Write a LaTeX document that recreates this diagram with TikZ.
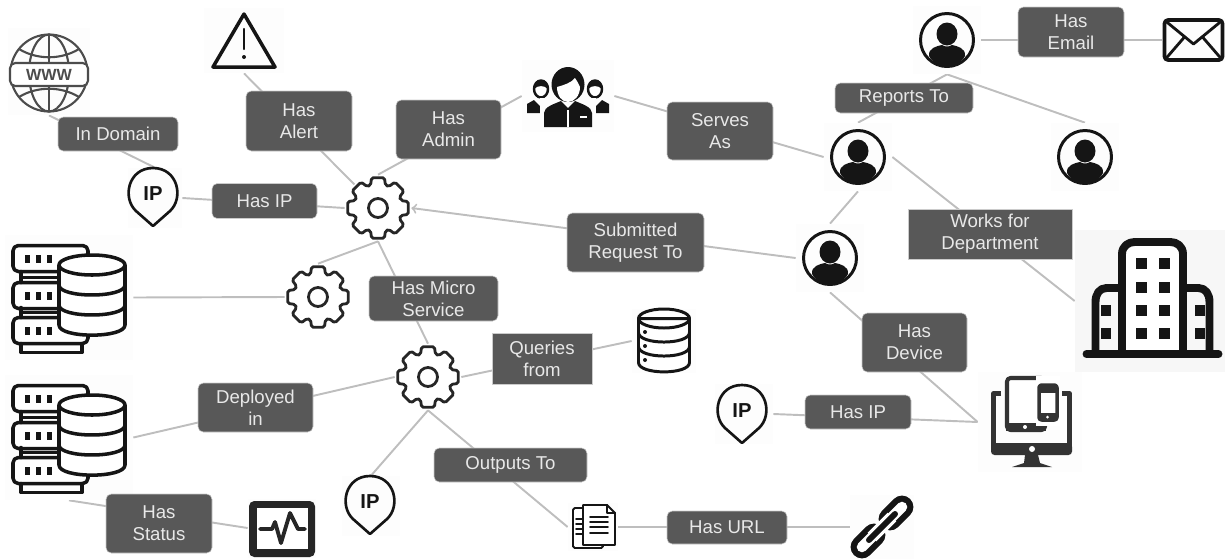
\documentclass[tikz,border=0pt]{standalone}
\usepackage{fontspec}
\setmainfont{Liberation Sans}
\usetikzlibrary{positioning,%
  backgrounds,%
  calc
}
\definecolor{boxgray}{HTML}{585858}
\definecolor{boxtext}{HTML}{E8E8E8}
\definecolor{linegray}{HTML}{BEBEBE}
\definecolor{iconback}{HTML}{FDFDFD}
\definecolor{iconink}{HTML}{151515}
\tikzset{
  linkbox/.style 2 args={rectangle, rounded corners=3pt, fill=boxgray, draw=linegray!80, line width=.3pt,
    text=boxtext, align=center, inner sep=0pt, minimum width=#1*.02cm, minimum height=#2*.02cm,
    font=\fontsize{10.6}{12.6}\selectfont},
  squarebox/.style 2 args={linkbox={#1}{#2}, rounded corners=0pt},
  iconbox/.style 2 args={rectangle, fill=iconback, inner sep=0pt, minimum width=#1*.02cm, minimum height=#2*.02cm},
  gearbox/.style={circle, inner sep=0pt, minimum size=66*.02cm},
  link/.style={draw=linegray, line width=1.1pt},
  ink/.style={draw=iconink, line width=#1, line join=round, line cap=round},
  ink/.default=1.5pt,
  pics/gearicon/.style={code={
    \draw[ink=1.6pt, draw=black!85, rounded corners=1pt] (-18:24) \foreach \a in {0,45,...,315} { -- ({\a-18}:24) -- ({\a-12}:31) -- ({\a+12}:31) -- ({\a+18}:24) } -- cycle;
    \draw[ink=1.6pt, draw=black!85] (0,0) circle[radius=9.5];
  }},
  pics/personicon/.style={code={
    \draw[ink=1.7pt] (0,0) circle[radius=26.5];
    \fill[iconink] (0,-6) ellipse[x radius=10.5, y radius=11.5];
    \fill[iconink] (-18,16) .. controls (-19,8) and (-10,6) .. (-5,5) .. controls (-2,7) and (2,7) .. (5,5) .. controls (10,6) and (19,8) .. (18,16) .. controls (14,23) and (7,26) .. (0,26) .. controls (-7,26) and (-14,23) .. (-18,16) -- cycle;
  }},
  pics/pinicon/.style={code={
    \draw[ink=1.5pt] (0,33) -- (-17,18) .. controls (-31,5) and (-25,-25) .. (0,-25) .. controls (25,-25) and (31,5) .. (17,18) -- cycle;
    \node[font=\bfseries\fontsize{11.5}{12}\selectfont, text=iconink, inner sep=0pt] (-txt) at (0,1) {IP};
  }},
  pics/servericon/.style={code={
    \foreach \y in {-52,-15,20} {
      \draw[ink=2pt, rounded corners=3pt, fill=white] (-56,\y) rectangle (19,\y+26);
      \foreach \x in {-42,-31,-20} { \fill[iconink] (\x-2.5,\y+9) rectangle (\x+2.5,\y+17); }
    }
    \draw[ink=2pt] (-48,-26) -- (-48,-15) (-48,-20) -- (-10,-20) (-48,10) -- (-48,20) (-48,15) -- (-10,15);
    \draw[ink=2pt] (-48,46) -- (-48,55) -- (13,55) -- (13,46);
    \draw[ink=2pt, fill=white] (-10,-32.5) -- (-10,27.5) .. controls (-10,41) and (56,41) .. (56,27.5) -- (56,-32.5) -- cycle;
    \draw[ink=2pt, fill=white] (23,-32.5) ellipse[x radius=33, y radius=10];
    \foreach \y in {-12.5,7.5} { \draw[ink=2pt] (-10,\y) .. controls (-10,\y+13.3) and (56,\y+13.3) .. (56,\y); }
  }},
  pics/dbicon/.style={code={
    \draw[ink=1.7pt, fill=white] (-25.5,-22.5) -- (-25.5,21.5) .. controls (-25.5,34) and (25.5,34) .. (25.5,21.5) -- (25.5,-22.5) -- cycle;
    \draw[ink=1.7pt] (0,-22.5) ellipse[x radius=25.5, y radius=9.5];
    \foreach \y in {-8.5,5.5} { \draw[ink=1.7pt] (-25.5,\y) .. controls (-25.5,\y+12.7) and (25.5,\y+12.7) .. (25.5,\y); }
    \foreach \y in {-9,5,19} { \fill[iconink] (-19,\y) circle[radius=2]; }
  }}
}
\begin{document}
\begin{tikzpicture}[x=.02cm, y=-.02cm]
  \useasboundingbox (0,0) rectangle (1225,559);
  % icons, each one a named box
  \node[iconbox={82}{87}] (www) at (49,71.5) {};
  \node[iconbox={54}{60}] (ipa) at (155,198) {};
  \node[iconbox={80}{65}] (alert) at (244,40.5) {};
  \node[gearbox] (geara) at (378,208) {};
  \node[gearbox] (gearb) at (318,297) {};
  \node[gearbox] (gearc) at (428,377) {};
  \node[iconbox={92}{72}] (admin) at (568,96) {};
  \node[iconbox={68}{68}] (persona) at (947,40) {};
  \node[iconbox={68}{68}] (personb) at (858,157) {};
  \node[iconbox={68}{68}] (personc) at (1085,157) {};
  \node[iconbox={68}{68}] (persond) at (830,258) {};
  \node[iconbox={63}{44}] (mail) at (1193.5,40) {};
  \node[iconbox={150}{142}, fill=black!3] (building) at (1150,301) {};
  \node[iconbox={104}{100}] (device) at (1030,422) {};
  \node[iconbox={58}{60}] (ipb) at (744,414) {};
  \node[iconbox={128}{125}] (servera) at (69,297.5) {};
  \node[iconbox={128}{125}] (serverb) at (69,437.5) {};
  \node[iconbox={68}{59}] (status) at (282,528) {};
  \node[iconbox={58}{60}] (ipc) at (371,506) {};
  \node[iconbox={50}{48}] (doc) at (593,527) {};
  \node[iconbox={64}{64}] (chain) at (882,527) {};
  \node[iconbox={64}{64}] (dbase) at (664,341) {};
  % labels
  \node[linkbox={120}{34}] (indomain) at (118,134) {In Domain};
  \node[linkbox={106}{60}] (hasalert) at (299,121) {Has\\Alert};
  \node[linkbox={105}{59}] (hasadmin) at (448.5,129.5) {Has\\Admin};
  \node[linkbox={105}{35}] (hasipa) at (264.5,201) {Has IP};
  \node[linkbox={106}{58}] (servesas) at (720,131) {Serves\\As};
  \node[linkbox={106}{50}] (hasemail) at (1071,32) {Has\\Email};
  \node[linkbox={138}{30}] (reportsto) at (904,98) {Reports To};
  \node[squarebox={164}{50}] (worksfor) at (990,234) {Works for\\Department};
  \node[linkbox={137}{59}] (submitted) at (635.5,242.5) {Submitted\\Request To};
  \node[linkbox={129}{45}] (microservice) at (433.5,298.5) {Has Micro\\Service};
  \node[linkbox={105}{59}] (hasdevice) at (914.5,342.5) {Has\\Device};
  \node[squarebox={100}{51}] (queries) at (542,358.5) {Queries\\from};
  \node[linkbox={115}{49}] (deployed) at (255.5,407.5) {Deployed\\in};
  \node[linkbox={106}{34}] (hasipb) at (858,412) {Has IP};
  \node[linkbox={153}{34}] (outputs) at (510.5,465) {Outputs To};
  \node[linkbox={120}{33}] (hasurl) at (727,527.5) {Has URL};
  \node[linkbox={106}{59}] (hasstatus) at (159,523.5) {Has\\Status};
  % connectors go under the labels
  \begin{scope}[on background layer]
    \draw[link] (www.south) -- (ipa.north);
    \draw[link] (ipa.east) -- (geara.west);
    \draw[link] (alert.south) -- (geara.135);
    \draw[link] (admin.west) -- (geara.north);
    \draw[link] (admin.east) -- (personb.west);
    \draw[link] (persona.east) -- (mail.west);
    \draw[link] (persona.south) -- (personb.north);
    \draw[link] (persona.south) -- (personc.north);
    \draw[link] (personb.south) -- (persond.north);
    \draw[link] (personb.east) -- (building.west);
    \draw[link, ->] (persond.west) -- (geara.east);
    \draw[link] (persond.south) -- (device.west);
    \draw[link] (ipb.east) -- (device.west);
    \draw[link] (geara.south) -- (gearb.north);
    \draw[link] (geara.south) -- (gearc.north);
    \draw[link] (servera.east) -- (gearb.west);
    \draw[link] (serverb.east) -- (gearc.west);
    \draw[link] (serverb.south) -- (status.west);
    \draw[link] (gearc.east) -- (dbase.west);
    \draw[link] (gearc.south) -- (ipc.north);
    \draw[link] (gearc.south) -- (doc.west);
    \draw[link] (doc.east) -- (chain.west);
  \end{scope}
  % icon drawings
  \pic at (378,208) {gearicon};
  \pic at (318,297) {gearicon};
  \pic at (428,377) {gearicon};
  \pic at (947,40) {personicon};
  \pic at (858,157) {personicon};
  \pic at (1085,157) {personicon};
  \pic at (830,258) {personicon};
  \pic (pina) at (153,193) {pinicon};
  \pic (pinb) at (742,410) {pinicon};
  \pic (pinc) at (370,501) {pinicon};
  \pic at (69,297.5) {servericon};
  \pic at (69,437.5) {servericon};
  \pic at (664,341) {dbicon};
  % globe
  \begin{scope}[shift={(49,73)}, black!70, line width=1.2pt]
    \draw (0,0) circle[radius=38.5];
    \draw (0,0) ellipse[x radius=20, y radius=38.5];
    \draw (0,-38.5) -- (0,38.5);
    \draw (-30,-24) .. controls (-12,-13) and (12,-13) .. (30,-24);
    \draw (-30,24) .. controls (-12,13) and (12,13) .. (30,24);
    \draw[fill=white, rounded corners=3pt] (-39,-10) rectangle (39,13);
    \node[font=\bfseries\fontsize{9.2}{10}\selectfont, inner sep=0pt] (wwwtext) at (0,1.5) {WWW};
  \end{scope}
  % warning sign
  \begin{scope}[shift={(244,40)}]
    \draw[ink=2pt] (0,-26) -- (-31,27) -- (31,27) -- cycle;
    \draw[ink=1.4pt] (0,-11) -- (0,9);
    \fill[iconink] (0,17) circle[radius=2];
  \end{scope}
  % admin group
  \begin{scope}[shift={(568,96)}]
    \foreach \s in {-1,1} {
      \begin{scope}[xscale=\s]
        \fill[iconink] (8,17) -- (8,8) -- (18,4) -- (26,12) -- (34,4) -- (41,8) -- (41,17) -- cycle;
        \draw[ink=1.4pt, fill=white] (27,-7) ellipse[x radius=7, y radius=8.5];
        \fill[iconink] (20,-7) .. controls (20,-18) and (35,-18) .. (34,-7) .. controls (30,-11) and (24,-11) .. (20,-7) -- cycle;
      \end{scope}
    }
    \fill[iconback] (-28,31) rectangle (28,2);
    \fill[iconink] (-24,31) -- (-24,17) .. controls (-24,11) and (-14,8) .. (-7,5) -- (0,12) -- (7,5) .. controls (14,8) and (24,11) .. (24,17) -- (24,31) -- cycle;
    \draw[white, line width=.9pt] (0,14) -- (0,31) (12,21) -- (19,21);
    \fill[iconink] (0,-11.5) ellipse[x radius=16.5, y radius=17.5];
    \fill[white] (-11,-9) .. controls (-4,-11) and (3,-13) .. (7,-18) .. controls (9,-15) and (11,-12) .. (12,-9) .. controls (12,0) and (6,6) .. (0,6) .. controls (-6,6) and (-11,0) .. (-11,-9) -- cycle;
  \end{scope}
  % envelope
  \begin{scope}[shift={(1193.5,40)}]
    \draw[ink=2.1pt, rounded corners=2pt] (-29,-20) rectangle (29,20);
    \draw[ink=1.6pt] (-28,-19) -- (0,4) -- (28,-19);
    \draw[ink=1.6pt] (-28,19) -- (-9,-3) (28,19) -- (9,-3);
  \end{scope}
  % building
  \begin{scope}[shift={(1152.5,300)}]
    \foreach \s in {-1,1} {
      \begin{scope}[xscale=\s]
        \draw[ink=4.5pt] (30.5,-12) -- (46,-12) .. controls (53,-12) and (57,-6) .. (57,2) -- (57,54);
        \fill[iconink] (42,4.5) rectangle (52,15.5);
        \fill[iconink] (42,27.5) rectangle (52,38.5);
        \foreach \y in {-37,-13,10,33} { \fill[iconink] (6,\y-5.5) rectangle (17,\y+5.5); }
      \end{scope}
    }
    \draw[ink=4.5pt, fill=white] (-30.5,54) -- (-30.5,-46) .. controls (-30.5,-54) and (-24,-58) .. (-18,-58) -- (18,-58) .. controls (24,-58) and (30.5,-54) .. (30.5,-46) -- (30.5,54);
    \foreach \x in {-11.5,11.5} { \foreach \y in {-37,-13,10,33} { \fill[iconink] (\x-5.5,\y-5.5) rectangle (\x+5.5,\y+5.5); } }
    \draw[ink=4.5pt] (-66,54) -- (66,54);
  \end{scope}
  % devices
  \begin{scope}[shift={(1032,422)}]
    \draw[ink=2.7pt, draw=black!80, line cap=butt] (-31,-28.5) -- (-38.5,-28.5) -- (-38.5,24);
    \draw[ink=2.7pt, draw=black!80, line cap=butt] (30,-28.5) -- (37.5,-28.5) -- (37.5,24);
    \fill[black!80, rounded corners=2pt] (-41,21) rectangle (40,33);
    \fill[black!80] (-7,33) -- (6,33) -- (8,41) -- (20,45) -- (-20,45) -- (-8,41) -- cycle;
    \fill[white] (0,27) circle[radius=3];
    \draw[ink=2.3pt, draw=black!80, fill=white, rounded corners=2pt] (-25,8) rectangle (13,-44);
    \fill[black!80] (-26,1) rectangle (14,9);
    \fill[white] (-7,5) circle[radius=2];
    \draw[white, line width=5pt] (8,-42) rectangle (24,0);
    \draw[ink=2pt, draw=black!80, fill=white, rounded corners=1.5pt] (7,-37) rectangle (25,-2);
    \fill[black!80] (7,-37) rectangle (25,-29);
    \fill[black!80] (7,-9) rectangle (25,-2);
    \fill[white] (15.5,-5) circle[radius=1.5];
  \end{scope}
  % status screen
  \begin{scope}[shift={(282,528)}]
    \fill[black!85, rounded corners=3pt] (-33,-27) rectangle (33,29);
    \fill[white] (-25,-20) rectangle (26,21);
    \draw[ink=2.2pt, draw=black!85] (-22,1) -- (-10,1) -- (-7,-6) -- (-1,15) -- (8,-15) -- (16,1) -- (23,1);
  \end{scope}
  % document
  \begin{scope}[shift={(593,527)}]
    \draw[ink=1.1pt, fill=white, rounded corners=1pt] (-20,-19) rectangle (10,21);
    \foreach \y in {-8,-3,2,7} { \draw[ink=.9pt] (-17,\y) -- (-11,\y); }
    \draw[ink=1.1pt, fill=white] (-10,-22) -- (14,-22) -- (22,-14) -- (22,18) -- (-10,18) -- cycle;
    \draw[ink=1pt] (14,-22) -- (14,-14) -- (22,-14);
    \foreach \y in {-10,-5,0,6} { \draw[ink=1pt] (-3,\y) -- (15,\y); }
  \end{scope}
  % chain link
  \begin{scope}[shift={(882,527)}]
    \foreach \s in {-1,1} {
      \draw[iconink, line width=13pt, line cap=round] (\s*8,\s*-8) -- (\s*20,\s*-20);
      \draw[white, line width=6pt, line cap=round] (\s*8,\s*-8) -- (\s*20,\s*-20);
    }
    \draw[white, line width=7pt] (-10,10) -- (10,-10);
    \draw[iconink, line width=3.4pt, line cap=round] (-13,13) -- (13,-13);
  \end{scope}
\end{tikzpicture}
\end{document}
